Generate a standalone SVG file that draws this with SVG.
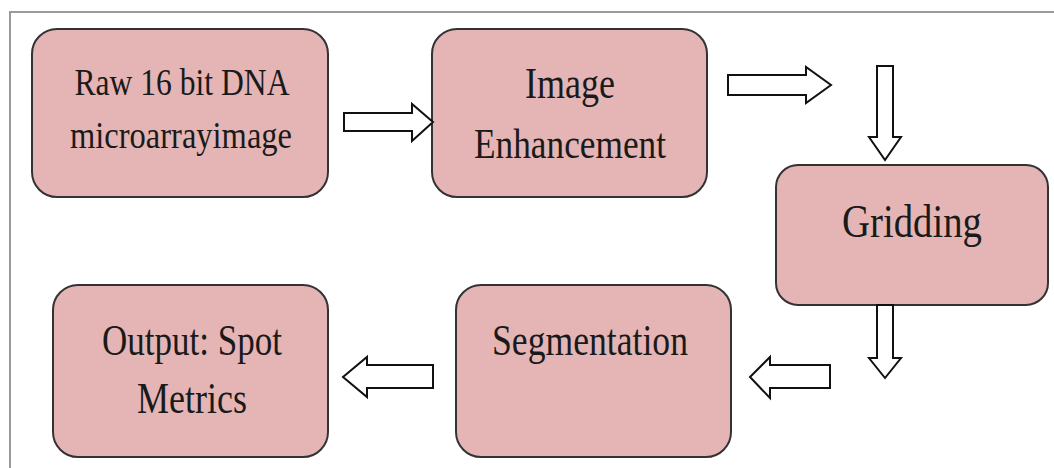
<svg xmlns="http://www.w3.org/2000/svg" width="1054" height="468" viewBox="0 0 1054 468">
<style>
.box{fill:#e5b5b5;stroke:#333;stroke-width:2}
.arr{fill:#fff;stroke:#111;stroke-width:2;stroke-linejoin:miter}
.t{font-family:"Liberation Serif","Times New Roman",serif;fill:#1a1a1a;text-anchor:middle}
.frame{stroke:#9a9a9a;stroke-width:2;fill:none}
</style>
<rect x="0" y="0" width="1054" height="468" fill="#fff"/>
<path class="frame" d="M10,468 V12 H1054"/>
<g id="node-raw">
<rect class="box" x="32" y="29" width="296" height="168" rx="25"/>
<text class="t" x="182" y="95" font-size="38" textLength="215" lengthAdjust="spacingAndGlyphs">Raw 16 bit DNA</text>
<text class="t" x="181" y="148" font-size="38" textLength="222" lengthAdjust="spacingAndGlyphs">microarrayimage</text>
</g>
<g id="node-enh">
<rect class="box" x="432" y="29" width="275" height="168" rx="25"/>
<text class="t" x="570" y="98" font-size="44" textLength="90" lengthAdjust="spacingAndGlyphs">Image</text>
<text class="t" x="570" y="158" font-size="42" textLength="192" lengthAdjust="spacingAndGlyphs">Enhancement</text>
</g>
<g id="node-grid">
<rect class="box" x="776" y="165" width="272" height="140" rx="22"/>
<text class="t" x="912" y="237" font-size="46" textLength="140" lengthAdjust="spacingAndGlyphs">Gridding</text>
</g>
<g id="node-seg">
<rect class="box" x="456" y="285" width="275" height="172" rx="25"/>
<text class="t" x="590" y="355" font-size="44" textLength="196" lengthAdjust="spacingAndGlyphs">Segmentation</text>
</g>
<g id="node-out">
<rect class="box" x="53" y="285" width="275" height="172" rx="25"/>
<text class="t" x="192" y="355" font-size="44" textLength="180" lengthAdjust="spacingAndGlyphs">Output: Spot</text>
<text class="t" x="192" y="413" font-size="44" textLength="110" lengthAdjust="spacingAndGlyphs">Metrics</text>
</g>
<g id="connectors">
<polygon class="arr" points="344,113 412,113 412,104 433,122 412,141 412,131 344,131"/>
<polygon class="arr" points="728,75 806,75 806,67 831,85 806,103 806,95 728,95"/>
<polygon class="arr" points="877,66 893,66 893,137 901,137 885,160 869,137 877,137"/>
<polygon class="arr" points="877,305 893,305 893,358 901,358 885,378 869,358 877,358"/>
<polygon class="arr" points="830,365 770,365 770,357 750,377 770,398 770,388 830,388"/>
<polygon class="arr" points="433,365 367,365 367,357 343,377 367,397 367,388 433,388"/>
</g>
</svg>
